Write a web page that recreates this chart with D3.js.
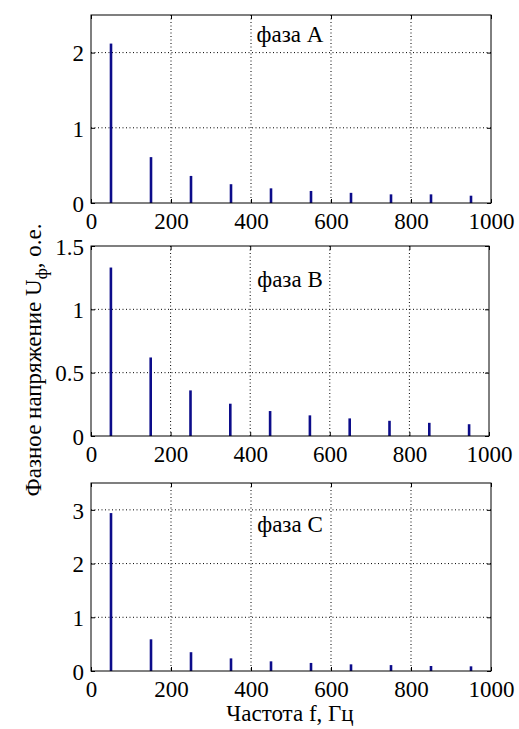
<!DOCTYPE html>
<html>
  <head>
    <meta charset="utf-8">
    <title>Spectrum by phase</title>
    <script src="https://cdn.jsdelivr.net/npm/d3@7"></script>
    <style>
      body { margin: 0; background: #fff; }
      .tick line { stroke: #000; }
      .domain { display: none; }
      .grid line { stroke: #000; stroke-dasharray: 1,2.5; stroke-width: 1; }
    </style>
  </head>
  <body>
    <svg id="chart" width="519" height="729"></svg>
    <script>

    // harmonic frequencies, Hz
    var freqs = [50, 150, 250, 350, 450, 550, 650, 750, 850, 950];

    // phase voltage amplitude, p.u.
    var phaseA = [2.12, 0.61, 0.36, 0.25, 0.195, 0.16, 0.135, 0.115, 0.115, 0.097];
    var phaseB = [1.33, 0.62, 0.36, 0.255, 0.197, 0.163, 0.139, 0.12, 0.104, 0.093];
    var phaseC = [2.94, 0.59, 0.35, 0.235, 0.18, 0.15, 0.124, 0.11, 0.093, 0.087];

    var xTicks = [0, 200, 400, 600, 800, 1000];
    var yTicksA = [0, 1, 2];
    var yTicksB = [0, 0.5, 1, 1.5];
    var yTicksC = [0, 1, 2, 3];

    var titles = ["фаза A", "фаза B", "фаза C"];

    var panels = [
      { values: phaseA, ymax: 2.5, ticks: yTicksA, top: 15, bottom: 203, right: 491, titleY: 42 },
      { values: phaseB, ymax: 1.5, ticks: yTicksB, top: 246, bottom: 436, right: 489, titleY: 287 },
      { values: phaseC, ymax: 3.5, ticks: yTicksC, top: 483, bottom: 671, right: 491, titleY: 532 }
    ];

    var left = 91;
    var font = "'Liberation Serif', 'Times New Roman', serif";
    var svg = d3.select("#chart");

    panels.forEach(function(p, i) {
      var x = d3.scaleLinear().domain([0, 1000]).range([left, p.right]);
      var y = d3.scaleLinear().domain([0, p.ymax]).range([p.bottom, p.top]);
      var g = svg.append("g");

      // dotted grid
      var grid = g.append("g").attr("class", "grid");
      grid.selectAll(".gx")
        .data(xTicks.slice(1, -1))
        .enter().append("line")
        .attr("x1", function(d) { return x(d); })
        .attr("x2", function(d) { return x(d); })
        .attr("y1", p.top)
        .attr("y2", p.bottom);
      grid.selectAll(".gy")
        .data(p.ticks.filter(function(d) { return d > 0 && d < p.ymax; }))
        .enter().append("line")
        .attr("x1", left)
        .attr("x2", p.right)
        .attr("y1", function(d) { return y(d); })
        .attr("y2", function(d) { return y(d); });

      // title with white box over the grid
      var tt = g.append("text")
        .attr("x", 290)
        .attr("y", p.titleY)
        .attr("text-anchor", "middle")
        .style("font-family", font)
        .style("font-size", "23px")
        .text(titles[i]);
      var bb = tt.node().getBBox();
      g.insert("rect", "text")
        .attr("x", bb.x - 1)
        .attr("y", bb.y + 2)
        .attr("width", bb.width + 2)
        .attr("height", bb.height - 4)
        .attr("fill", "#fff");

      // stems
      g.selectAll(".stem")
        .data(p.values)
        .enter().append("line")
        .attr("x1", function(d, k) { return x(freqs[k]); })
        .attr("x2", function(d, k) { return x(freqs[k]); })
        .attr("y1", y(0))
        .attr("y2", function(d) { return y(d); })
        .attr("stroke", "#0c0c8a")
        .attr("stroke-width", 2.6);

      // axes, ticks pointing inward
      var xa = g.append("g")
        .attr("transform", "translate(0," + p.bottom + ")")
        .call(d3.axisBottom(x).tickValues(xTicks).tickSize(-4).tickPadding(9).tickFormat(d3.format("d")));
      xa.selectAll("text").style("font-family", font).style("font-size", "23px").attr("dy", "0.72em");

      g.append("g")
        .attr("transform", "translate(0," + p.top + ")")
        .call(d3.axisTop(x).tickValues(xTicks).tickSize(-4).tickFormat(""));

      var ya = g.append("g")
        .attr("transform", "translate(" + left + ",0)")
        .call(d3.axisLeft(y).tickValues(p.ticks).tickSize(-4).tickPadding(7).tickFormat(function(d) { return d; }));
      ya.selectAll("text").style("font-family", font).style("font-size", "23px").attr("dy", "0.36em");

      g.append("g")
        .attr("transform", "translate(" + p.right + ",0)")
        .call(d3.axisRight(y).tickValues(p.ticks).tickSize(-4).tickFormat(""));

      // frame
      g.append("rect")
        .attr("x", left)
        .attr("y", p.top)
        .attr("width", p.right - left)
        .attr("height", p.bottom - p.top)
        .attr("fill", "none")
        .attr("stroke", "#000")
        .attr("stroke-width", 1);
    });

    // axis titles
    svg.append("text")
      .attr("x", 290)
      .attr("y", 721)
      .attr("text-anchor", "middle")
      .style("font-family", font)
      .style("font-size", "23px")
      .text("Частота f, Гц");

    var yl = svg.append("text")
      .attr("transform", "translate(41,360) rotate(-90)")
      .attr("text-anchor", "middle")
      .style("font-family", font)
      .style("font-size", "23px");
    yl.append("tspan").text("Фазное напряжение U");
    yl.append("tspan").attr("dy", 6).style("font-size", "17px").text("ф");
    yl.append("tspan").attr("dy", -6).text(", о.е.");

    </script>
  </body>
</html>
